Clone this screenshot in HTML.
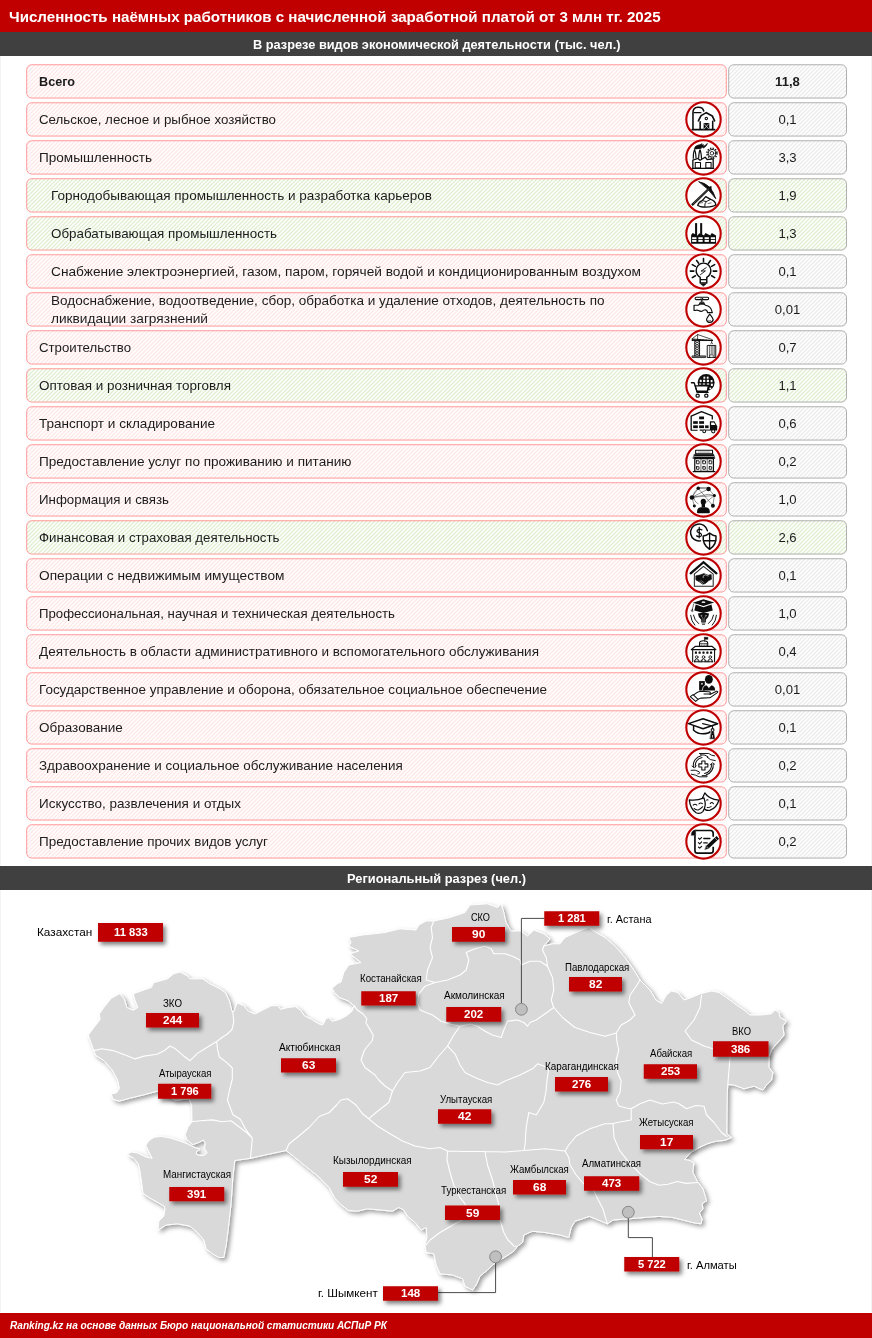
<!DOCTYPE html>
<html lang="ru"><head><meta charset="utf-8"><title>Infographic</title>
<style>
html,body{margin:0;padding:0;background:#fff;}
body{width:872px;height:1338px;position:relative;overflow:hidden;font-family:"Liberation Sans",sans-serif;}
.abs{position:absolute;}
#txt{position:absolute;left:0;top:0;width:872px;height:1338px;will-change:transform;}
.t{position:absolute;white-space:nowrap;transform-origin:0 0;display:block;}
.v{position:absolute;left:728px;width:119px;text-align:center;font-size:12.6px;color:#1c1c1c;transform:scaleX(1.04);}
</style></head><body>

<div class="abs" style="left:0;top:0;width:872px;height:31.7px;background:#c00000"></div>
<div class="abs" style="left:0;top:31.7px;width:872px;height:24.1px;background:#404040"></div>
<div class="abs" style="left:0;top:866.2px;width:872px;height:23.5px;background:#404040"></div>
<div class="abs" style="left:0;top:1312.5px;width:872px;height:25.5px;background:#c00000"></div>
<div class="abs" style="left:0px;top:55.8px;width:1px;height:810.4px;background:#f4f4f4"></div>
<div class="abs" style="left:0px;top:889.7px;width:1px;height:422.8px;background:#f4f4f4"></div>
<div class="abs" style="left:871px;top:55.8px;width:1px;height:810.4px;background:#f4f4f4"></div>
<div class="abs" style="left:871px;top:889.7px;width:1px;height:422.8px;background:#f4f4f4"></div>
<svg class="abs" style="left:0;top:0" width="872" height="1338" viewBox="0 0 872 1338">
<defs>
<pattern id="hp" patternUnits="userSpaceOnUse" width="16" height="16"><path d="M-2,2 L2,-2 M-2,6 L6,-2 M-2,10 L10,-2 M-2,14 L14,-2 M-2,18 L18,-2 M-2,22 L22,-2 M-2,26 L26,-2 M-2,30 L30,-2 M-2,34 L34,-2 " stroke="#ffe6e6" stroke-width="1.25" fill="none"/></pattern>
<pattern id="hg" patternUnits="userSpaceOnUse" width="16" height="16"><path d="M-2,2 L2,-2 M-2,6 L6,-2 M-2,10 L10,-2 M-2,14 L14,-2 M-2,18 L18,-2 M-2,22 L22,-2 M-2,26 L26,-2 M-2,30 L30,-2 M-2,34 L34,-2 " stroke="#dfeecf" stroke-width="1.25" fill="none"/></pattern>
<pattern id="hgr" patternUnits="userSpaceOnUse" width="16" height="16"><path d="M-2,2 L2,-2 M-2,6 L6,-2 M-2,10 L10,-2 M-2,14 L14,-2 M-2,18 L18,-2 M-2,22 L22,-2 M-2,26 L26,-2 M-2,30 L30,-2 M-2,34 L34,-2 " stroke="#ebebeb" stroke-width="1.25" fill="none"/></pattern>
<pattern id="hgg" patternUnits="userSpaceOnUse" width="16" height="16"><path d="M-2,2 L2,-2 M-2,6 L6,-2 M-2,10 L10,-2 M-2,14 L14,-2 M-2,18 L18,-2 M-2,22 L22,-2 M-2,26 L26,-2 M-2,30 L30,-2 M-2,34 L34,-2 " stroke="#dfeecf" stroke-width="1.25" fill="none"/></pattern>
<filter id="msh" x="-5%" y="-5%" width="112%" height="112%"><feDropShadow dx="2.5" dy="2.5" stdDeviation="2" flood-color="#000" flood-opacity="0.38"/></filter>
<filter id="bsh" x="-20%" y="-40%" width="150%" height="220%"><feDropShadow dx="2.6" dy="3" stdDeviation="2" flood-color="#000" flood-opacity="0.5"/></filter>
</defs>
<rect x="26.7" y="64.75" width="699.6" height="33.30" rx="5" fill="url(#hp)" stroke="#ff9494" stroke-width="0.95"/>
<rect x="728.7" y="64.75" width="117.8" height="33.30" rx="5" fill="url(#hgr)" stroke="#ababab" stroke-width="0.95"/>
<rect x="26.7" y="102.75" width="699.6" height="33.30" rx="5" fill="url(#hp)" stroke="#ff9494" stroke-width="0.95"/>
<rect x="728.7" y="102.75" width="117.8" height="33.30" rx="5" fill="url(#hgr)" stroke="#ababab" stroke-width="0.95"/>
<rect x="26.7" y="140.75" width="699.6" height="33.30" rx="5" fill="url(#hp)" stroke="#ff9494" stroke-width="0.95"/>
<rect x="728.7" y="140.75" width="117.8" height="33.30" rx="5" fill="url(#hgr)" stroke="#ababab" stroke-width="0.95"/>
<rect x="26.7" y="178.75" width="699.6" height="33.30" rx="5" fill="url(#hg)" stroke="#ff9494" stroke-width="0.95"/>
<rect x="728.7" y="178.75" width="117.8" height="33.30" rx="5" fill="url(#hgg)" stroke="#ababab" stroke-width="0.95"/>
<rect x="26.7" y="216.75" width="699.6" height="33.30" rx="5" fill="url(#hg)" stroke="#ff9494" stroke-width="0.95"/>
<rect x="728.7" y="216.75" width="117.8" height="33.30" rx="5" fill="url(#hgg)" stroke="#ababab" stroke-width="0.95"/>
<rect x="26.7" y="254.75" width="699.6" height="33.30" rx="5" fill="url(#hp)" stroke="#ff9494" stroke-width="0.95"/>
<rect x="728.7" y="254.75" width="117.8" height="33.30" rx="5" fill="url(#hgr)" stroke="#ababab" stroke-width="0.95"/>
<rect x="26.7" y="292.75" width="699.6" height="33.30" rx="5" fill="url(#hp)" stroke="#ff9494" stroke-width="0.95"/>
<rect x="728.7" y="292.75" width="117.8" height="33.30" rx="5" fill="url(#hgr)" stroke="#ababab" stroke-width="0.95"/>
<rect x="26.7" y="330.75" width="699.6" height="33.30" rx="5" fill="url(#hp)" stroke="#ff9494" stroke-width="0.95"/>
<rect x="728.7" y="330.75" width="117.8" height="33.30" rx="5" fill="url(#hgr)" stroke="#ababab" stroke-width="0.95"/>
<rect x="26.7" y="368.75" width="699.6" height="33.30" rx="5" fill="url(#hg)" stroke="#ff9494" stroke-width="0.95"/>
<rect x="728.7" y="368.75" width="117.8" height="33.30" rx="5" fill="url(#hgg)" stroke="#ababab" stroke-width="0.95"/>
<rect x="26.7" y="406.75" width="699.6" height="33.30" rx="5" fill="url(#hp)" stroke="#ff9494" stroke-width="0.95"/>
<rect x="728.7" y="406.75" width="117.8" height="33.30" rx="5" fill="url(#hgr)" stroke="#ababab" stroke-width="0.95"/>
<rect x="26.7" y="444.75" width="699.6" height="33.30" rx="5" fill="url(#hp)" stroke="#ff9494" stroke-width="0.95"/>
<rect x="728.7" y="444.75" width="117.8" height="33.30" rx="5" fill="url(#hgr)" stroke="#ababab" stroke-width="0.95"/>
<rect x="26.7" y="482.75" width="699.6" height="33.30" rx="5" fill="url(#hp)" stroke="#ff9494" stroke-width="0.95"/>
<rect x="728.7" y="482.75" width="117.8" height="33.30" rx="5" fill="url(#hgr)" stroke="#ababab" stroke-width="0.95"/>
<rect x="26.7" y="520.75" width="699.6" height="33.30" rx="5" fill="url(#hg)" stroke="#ff9494" stroke-width="0.95"/>
<rect x="728.7" y="520.75" width="117.8" height="33.30" rx="5" fill="url(#hgg)" stroke="#ababab" stroke-width="0.95"/>
<rect x="26.7" y="558.75" width="699.6" height="33.30" rx="5" fill="url(#hp)" stroke="#ff9494" stroke-width="0.95"/>
<rect x="728.7" y="558.75" width="117.8" height="33.30" rx="5" fill="url(#hgr)" stroke="#ababab" stroke-width="0.95"/>
<rect x="26.7" y="596.75" width="699.6" height="33.30" rx="5" fill="url(#hp)" stroke="#ff9494" stroke-width="0.95"/>
<rect x="728.7" y="596.75" width="117.8" height="33.30" rx="5" fill="url(#hgr)" stroke="#ababab" stroke-width="0.95"/>
<rect x="26.7" y="634.75" width="699.6" height="33.30" rx="5" fill="url(#hp)" stroke="#ff9494" stroke-width="0.95"/>
<rect x="728.7" y="634.75" width="117.8" height="33.30" rx="5" fill="url(#hgr)" stroke="#ababab" stroke-width="0.95"/>
<rect x="26.7" y="672.75" width="699.6" height="33.30" rx="5" fill="url(#hp)" stroke="#ff9494" stroke-width="0.95"/>
<rect x="728.7" y="672.75" width="117.8" height="33.30" rx="5" fill="url(#hgr)" stroke="#ababab" stroke-width="0.95"/>
<rect x="26.7" y="710.75" width="699.6" height="33.30" rx="5" fill="url(#hp)" stroke="#ff9494" stroke-width="0.95"/>
<rect x="728.7" y="710.75" width="117.8" height="33.30" rx="5" fill="url(#hgr)" stroke="#ababab" stroke-width="0.95"/>
<rect x="26.7" y="748.75" width="699.6" height="33.30" rx="5" fill="url(#hp)" stroke="#ff9494" stroke-width="0.95"/>
<rect x="728.7" y="748.75" width="117.8" height="33.30" rx="5" fill="url(#hgr)" stroke="#ababab" stroke-width="0.95"/>
<rect x="26.7" y="786.75" width="699.6" height="33.30" rx="5" fill="url(#hp)" stroke="#ff9494" stroke-width="0.95"/>
<rect x="728.7" y="786.75" width="117.8" height="33.30" rx="5" fill="url(#hgr)" stroke="#ababab" stroke-width="0.95"/>
<rect x="26.7" y="824.75" width="699.6" height="33.30" rx="5" fill="url(#hp)" stroke="#ff9494" stroke-width="0.95"/>
<rect x="728.7" y="824.75" width="117.8" height="33.30" rx="5" fill="url(#hgr)" stroke="#ababab" stroke-width="0.95"/>
<g transform="translate(703.5,119.40)"><circle r="17.2" fill="#fff" stroke="#c00000" stroke-width="2.1"/><g transform="scale(0.0598) translate(-393,-355)" stroke="#0d0d0d" fill="none" stroke-linecap="round" stroke-linejoin="round">
<path d="M217,520 V235 C217,128 375,125 397,215" stroke-width="26"/>
<path d="M235,243 H350" stroke-width="20"/>
<path d="M205,526 H580" stroke-width="26"/>
<path d="M308,378 L352,292 L440,242 L540,297 L578,378" stroke-width="28"/>
<path d="M337,395 V520 M547,388 V520" stroke-width="26"/>
<rect x="395" y="415" width="95" height="105" fill="#0d0d0d" stroke="none"/>
<path d="M405,428 L480,515 M480,428 L405,515" stroke="#fff" stroke-width="10"/>
<circle cx="440" cy="340" r="20" stroke-width="18"/>
</g></g>
<g transform="translate(703.5,157.40)"><circle r="17.2" fill="#fff" stroke="#c00000" stroke-width="2.1"/><g transform="scale(0.0598) translate(-393,-994)" stroke="#0d0d0d" fill="none" stroke-linecap="round" stroke-linejoin="round">
<path d="M205,1176 H565" stroke-width="22"/>
<path d="M215,1170 V1038 L300,1012 L335,1042 L420,992 L455,1030 L555,1020 V1170" stroke-width="22"/>
<rect x="255" y="1078" width="88" height="92" stroke-width="18"/>
<rect x="432" y="1078" width="88" height="92" stroke-width="18"/>
<path d="M222,1010 Q222,900 245,870 Q262,900 268,1000 M312,1000 Q318,900 335,868 Q352,900 360,1010" stroke-width="20"/>
<path d="M240,860 Q245,800 300,790 Q340,788 368,765 L350,800 L390,780 L385,815 Q420,800 458,762 Q440,810 395,835 L372,822 L345,850" stroke-width="14" fill="#0d0d0d"/>
<circle cx="535" cy="925" r="30" stroke-width="14"/>
<circle cx="535" cy="925" r="84" stroke-width="26" stroke-dasharray="22 22" stroke-linecap="butt"/>
<circle cx="535" cy="925" r="64" stroke-width="16"/>
</g></g>
<g transform="translate(703.5,195.40)"><circle r="17.2" fill="#fff" stroke="#c00000" stroke-width="2.1"/><g transform="scale(0.0598) translate(-393,-355)" stroke="#0d0d0d" fill="none" stroke-linecap="round" stroke-linejoin="round">
<path d="M318,128 Q520,160 598,410 Q478,240 318,128 Z" fill="#0d0d0d" stroke-width="14"/>
<path d="M505,222 L200,518" stroke-width="38" stroke-linecap="butt"/>
<path d="M485,241 L218,500" stroke="#fff" stroke-width="7" stroke-linecap="butt" opacity="0.75"/>
<path d="M468,222 L522,202 L525,262 Z" fill="#0d0d0d" stroke-width="8"/>
<path d="M295,518 Q318,458 372,442 L430,375 L512,422 Q592,448 600,512 Q560,552 420,550 Q330,548 295,518 Z" fill="#fff" stroke-width="22"/>
<path d="M372,442 L440,458 L512,422 M440,458 Q405,490 415,545" stroke-width="16"/>
<path d="M335,482 L378,476 M470,490 L520,480" stroke-width="10"/>
</g></g>
<g transform="translate(703.5,233.40)"><circle r="17.2" fill="#fff" stroke="#c00000" stroke-width="2.1"/><g transform="scale(0.0598) translate(-393,-994)" stroke="#0d0d0d" fill="none" stroke-linecap="round" stroke-linejoin="round">
<g stroke="none" fill="#0d0d0d">
<rect x="252" y="822" width="34" height="200"/><rect x="337" y="822" width="34" height="200"/>
<path d="M186,1168 V1022 L212,988 L300,1030 V1022 L322,990 L405,1030 V1022 L425,988 L510,1030 V1022 L532,988 L602,1030 V1168 Z"/>
</g>
<g stroke="none" fill="#fff">
<rect x="203" y="1058" width="72" height="30"/><rect x="203" y="1102" width="72" height="34"/>
<rect x="307" y="1058" width="72" height="30"/><rect x="307" y="1102" width="72" height="34"/>
<rect x="411" y="1058" width="72" height="30"/><rect x="411" y="1102" width="72" height="34"/>
<rect x="515" y="1058" width="72" height="30"/><rect x="515" y="1102" width="72" height="34"/>
</g>
</g></g>
<g transform="translate(703.5,271.40)"><circle r="17.2" fill="#fff" stroke="#c00000" stroke-width="2.1"/><g transform="scale(0.0598) translate(-393,-355)" stroke="#0d0d0d" fill="none" stroke-linecap="round" stroke-linejoin="round">
<path d="M338,455 Q270,410 270,340 A123,123 0 1 1 516,340 Q516,410 448,455 V548 H338 Z" stroke-width="24"/>
<path d="M345,492 H440" stroke-width="22"/>
<path d="M352,565 H434 L393,600 Z" fill="#0d0d0d" stroke-width="12"/>
<path d="M393,140 V192 M278,172 L312,218 M510,172 L474,222 M205,242 L258,272 M580,242 L528,272 M172,350 H232 M555,350 H615 M258,428 L205,460 M528,428 L580,460" stroke-width="26"/>
<path d="M438,292 L352,350 L425,346 L342,410" stroke-width="15"/>
</g></g>
<g transform="translate(703.5,309.40)"><circle r="17.2" fill="#fff" stroke="#c00000" stroke-width="2.1"/><g transform="scale(0.0598) translate(-393,-994)" stroke="#0d0d0d" fill="none" stroke-linecap="round" stroke-linejoin="round">
<rect x="252" y="790" width="228" height="40" rx="20" stroke-width="18"/>
<circle cx="365" cy="810" r="14" fill="#fff" stroke-width="12"/>
<path d="M365,835 V875" stroke-width="20"/>
<path d="M322,905 L335,872 H398 L412,905 Z" fill="#555" stroke-width="10"/>
<path d="M235,925 H305 Q325,898 365,898 Q408,898 425,925 Q520,935 540,1048 H462 Q455,1002 420,1000 Q395,1000 375,1022 Q345,1035 312,1012 Q285,1000 252,1012 H235 Z" stroke-width="20"/>
<path d="M497,1072 Q440,1150 445,1168 Q452,1212 500,1212 Q550,1208 555,1165 Q552,1142 497,1072 Z" stroke-width="20"/>
<path d="M478,1180 Q495,1192 512,1180" stroke-width="10"/>
</g></g>
<g transform="translate(703.5,347.40)"><circle r="17.2" fill="#fff" stroke="#c00000" stroke-width="2.1"/><g transform="scale(0.0598) translate(-393,-355)" stroke="#0d0d0d" fill="none" stroke-linecap="round" stroke-linejoin="round">
<path d="M247,238 V498 M327,238 V498" stroke-width="16"/>
<path d="M250,250 L325,290 L250,330 L325,370 L250,410 L325,450 L250,490 M325,250 L250,290 L325,330 L250,370 L325,410 L250,450 L325,490" stroke-width="12"/>
<rect x="207" y="497" width="222" height="28" fill="#777" stroke-width="12"/>
<path d="M205,215 L545,240 M205,240 L545,240 M205,215 V240" stroke-width="16"/>
<path d="M215,228 L240,215 L265,240 L290,218 L315,240 L340,222 L365,240 L390,226 L415,240 L440,230 L465,240 L490,234" stroke-width="10"/>
<path d="M210,205 L295,140 L540,225 M295,140 V215" stroke-width="12"/>
<path d="M530,240 V280 M515,290 L530,278 L545,290" stroke-width="12"/>
<rect x="462" y="322" width="136" height="202" stroke-width="16"/>
<path d="M492,330 V520 M522,330 V470 M550,330 V470 M575,330 V520" stroke-width="10"/>
<rect x="505" y="480" width="50" height="42" fill="#fff" stroke-width="10"/>
</g></g>
<g transform="translate(703.5,385.40)"><circle r="17.2" fill="#fff" stroke="#c00000" stroke-width="2.1"/><g transform="scale(0.0598) translate(-393,-994)" stroke="#0d0d0d" fill="none" stroke-linecap="round" stroke-linejoin="round">
<circle cx="437" cy="945" r="142" fill="#0d0d0d" stroke="none"/>
<g stroke="none" fill="#fff"><rect x="392" y="848" width="30" height="34"/><rect x="448" y="848" width="30" height="34"/><rect x="330" y="900" width="32" height="38"/><rect x="386" y="900" width="36" height="38"/><rect x="448" y="900" width="36" height="38"/><rect x="512" y="905" width="32" height="36"/><rect x="516" y="965" width="34" height="38"/><rect x="492" y="1030" width="30" height="26"/></g><g stroke="none" fill="#999"><rect x="320" y="955" width="34" height="34"/><rect x="380" y="955" width="40" height="34"/><rect x="448" y="955" width="40" height="34"/></g>
<path d="M255,1003 H472 L455,1098 H283 Z" fill="#fff" stroke-width="20"/>
<path d="M190,950 H237 L288,1112 H470" stroke-width="22"/>
<path d="M283,1092 H458" stroke-width="26"/>
<circle cx="295" cy="1165" r="27" fill="#fff" stroke-width="21"/>
<circle cx="440" cy="1165" r="27" fill="#fff" stroke-width="21"/>
</g></g>
<g transform="translate(703.5,423.40)"><circle r="17.2" fill="#fff" stroke="#c00000" stroke-width="2.1"/><g transform="scale(0.0598) translate(-393,-355)" stroke="#0d0d0d" fill="none" stroke-linecap="round" stroke-linejoin="round">
<path d="M187,470 V235 L360,157 L540,228 V290" stroke-width="22" stroke-linecap="butt"/>
<path d="M180,470 H295 M330,467 H380" stroke-width="20" stroke-linecap="butt"/>
<g stroke="none" fill="#0d0d0d">
<rect x="320" y="240" width="82" height="46"/>
<rect x="220" y="318" width="78" height="44"/><rect x="320" y="318" width="82" height="44"/>
<rect x="220" y="388" width="78" height="46"/><rect x="320" y="388" width="82" height="46"/><rect x="420" y="388" width="58" height="46"/>
<path d="M500,320 H575 L622,402 V475 H500 Z"/>
</g>
<path d="M430,467 H500" stroke-width="16"/>
<path d="M520,338 H568 L592,382 H520 Z" fill="#fff" stroke="none"/>
<circle cx="405" cy="487" r="24" fill="#fff" stroke-width="17"/>
<circle cx="556" cy="487" r="27" fill="#fff" stroke-width="17"/>
</g></g>
<g transform="translate(703.5,461.40)"><circle r="17.2" fill="#fff" stroke="#c00000" stroke-width="2.1"/><g transform="scale(0.0598) translate(-393,-994)" stroke="#0d0d0d" fill="none" stroke-linecap="round" stroke-linejoin="round">
<rect x="262" y="807" width="282" height="60" fill="#fff" stroke-width="18"/>
<path d="M305,838 H500" stroke-width="10" stroke="#555"/>
<path d="M242,873 H563 L585,945 H220 Z" fill="#0d0d0d" stroke-width="8"/>
<path d="M240,912 H565" stroke="#fff" stroke-width="9"/>
<rect x="247" y="948" width="312" height="212" fill="#fff" stroke-width="20"/>
<path d="M350,955 V1155 M455,955 V1155" stroke-width="10"/>
<g stroke-width="15">
<rect x="274" y="984" width="46" height="50" rx="3"/><rect x="380" y="984" width="46" height="50" rx="3"/><rect x="486" y="984" width="46" height="50" rx="3"/>
<rect x="276" y="1082" width="42" height="44" rx="3"/><rect x="382" y="1082" width="42" height="44" rx="3"/><rect x="488" y="1082" width="42" height="44" rx="3"/>
</g>
<path d="M220,1165 H585" stroke-width="18"/>
</g></g>
<g transform="translate(703.5,499.40)"><circle r="17.2" fill="#fff" stroke="#c00000" stroke-width="2.1"/><g transform="scale(0.0598) translate(-393,-355)" stroke="#0d0d0d" fill="none" stroke-linecap="round" stroke-linejoin="round">
<g stroke-width="8" stroke="#222">
<path d="M305,170 L478,180 L575,290 L550,460 M305,170 L200,320 L240,465 M200,320 L575,290 M305,170 L550,460 M478,180 L200,320 M305,155 L478,160 M200,320 L478,270 L575,290 M575,290 L440,400 M230,300 Q235,400 300,425 M305,170 Q230,230 215,290"/>
</g>
<g stroke="none" fill="#0d0d0d">
<circle cx="305" cy="170" r="29"/><circle cx="478" cy="180" r="38"/><circle cx="200" cy="322" r="38"/><circle cx="575" cy="290" r="26"/><circle cx="240" cy="465" r="25"/><circle cx="550" cy="460" r="33"/>
<ellipse cx="390" cy="395" rx="44" ry="50"/>
<rect x="362" y="430" width="56" height="60"/>
<path d="M283,570 Q283,492 345,485 L435,485 Q500,492 500,570 Q500,585 480,585 H305 Q283,585 283,570 Z"/>
</g>
</g></g>
<g transform="translate(703.5,537.40)"><circle r="17.2" fill="#fff" stroke="#c00000" stroke-width="2.1"/><g transform="scale(0.0598) translate(-393,-994)" stroke="#0d0d0d" fill="none" stroke-linecap="round" stroke-linejoin="round">
<path d="M458,882 A142,142 0 1 0 342,1052" stroke-width="25"/>
<path d="M365,868 Q320,845 292,872 Q270,905 322,918 Q372,932 355,968 Q325,995 278,968 M322,828 V1000" stroke-width="21"/>
<path d="M495,922 Q550,965 602,970 Q615,1120 495,1192 Q375,1120 388,970 Q440,965 495,922 Z" fill="#fff" stroke-width="25"/>
<path d="M495,935 V1182 M392,1050 H598" stroke-width="22"/>
</g></g>
<g transform="translate(703.5,575.40)"><circle r="17.2" fill="#fff" stroke="#c00000" stroke-width="2.1"/><g transform="scale(0.0598) translate(-393,-355)" stroke="#0d0d0d" fill="none" stroke-linecap="round" stroke-linejoin="round">
<path d="M178,320 L393,135 L610,320" stroke-width="38" stroke-linejoin="miter"/>
<path d="M240,332 V535 H555 V332 M238,335 L393,205 L557,335" stroke-width="17" stroke="#222"/>
<path d="M268,362 L335,348 L400,325 L470,352 L522,340 L527,420 L482,442 L425,490 L380,502 L322,462 L268,430 Z" fill="#0d0d0d" stroke-width="10"/>
<path d="M385,395 Q375,350 425,345 L470,365" stroke="#fff" stroke-width="10"/>
<path d="M330,455 L380,490 M350,440 L400,475" stroke="#fff" stroke-width="7"/>
</g></g>
<g transform="translate(703.5,613.40)"><circle r="17.2" fill="#fff" stroke="#c00000" stroke-width="2.1"/><g transform="scale(0.0598) translate(-393,-994)" stroke="#0d0d0d" fill="none" stroke-linecap="round" stroke-linejoin="round">
<g stroke="none" fill="#0d0d0d">
<path d="M215,815 L393,758 L572,810 L393,872 Z"/>
<path d="M262,846 L393,890 L526,844 L548,945 L393,988 L240,945 Z"/>
<path d="M300,995 Q393,972 487,995 Q482,1062 432,1102 L432,1138 H355 L355,1102 Q305,1062 300,995 Z"/>
<rect x="358" y="1145" width="70" height="14"/><rect x="368" y="1168" width="50" height="14"/>
</g>
<ellipse cx="393" cy="806" rx="32" ry="14" fill="#ddd" stroke="none"/>
<path d="M228,835 L208,925 M208,925 L185,950 M208,925 L200,965 M208,925 L215,960" stroke-width="10"/>
<path d="M383,1130 V1080 L360,1040 M405,1130 V1080 L428,1040" stroke="#fff" stroke-width="6"/>
<circle cx="356" cy="1033" r="8" stroke="#fff" stroke-width="5"/><circle cx="432" cy="1033" r="8" stroke="#fff" stroke-width="5"/>
<path d="M178,1025 Q188,1130 248,1190 M225,1022 Q240,1112 312,1165 M610,1025 Q600,1130 540,1190 M562,1022 Q548,1112 475,1165" stroke-width="16"/>
</g></g>
<g transform="translate(703.5,651.40)"><circle r="17.2" fill="#fff" stroke="#c00000" stroke-width="2.1"/><g transform="scale(0.0598) translate(-393,-355)" stroke="#0d0d0d" fill="none" stroke-linecap="round" stroke-linejoin="round">
<path d="M412,185 V120" stroke-width="12"/>
<rect x="412" y="118" width="55" height="36" fill="#0d0d0d" stroke-width="6"/>
<path d="M327,265 V215 Q327,177 393,177 Q463,177 463,215 V265" stroke-width="18"/>
<path d="M355,225 V265 M385,225 V265 M415,225 V265 M440,225 V265" stroke-width="9"/>
<path d="M325,222 H465" stroke-width="9"/>
<path d="M188,325 L258,270 H533 L600,325 Z" fill="#fff" stroke-width="20"/>
<path d="M212,335 V530 M578,335 V530" stroke-width="18"/>
<g fill="#0d0d0d" stroke="none">
<rect x="248" y="358" width="36" height="36" rx="9"/><rect x="310" y="358" width="36" height="36" rx="9"/><rect x="375" y="358" width="36" height="36" rx="9"/><rect x="440" y="358" width="36" height="36" rx="9"/><rect x="502" y="358" width="36" height="36" rx="9"/>
</g>
<g stroke-width="14">
<circle cx="280" cy="450" r="22"/><circle cx="393" cy="450" r="22"/><circle cx="506" cy="450" r="22"/>
<path d="M240,530 Q240,482 280,480 Q320,482 320,530 M353,530 Q353,482 393,480 Q433,482 433,530 M466,530 Q466,482 506,480 Q546,482 546,530"/>
</g>
<path d="M240,528 H548" stroke-width="14" stroke-dasharray="9 9"/>
<path d="M245,505 V530 M265,505 V530 M300,505 V530 M335,505 V530 M375,505 V530 M412,505 V530 M450,505 V530 M485,505 V530 M525,505 V530" stroke-width="8"/>
</g></g>
<g transform="translate(703.5,689.40)"><circle r="17.2" fill="#fff" stroke="#c00000" stroke-width="2.1"/><g transform="scale(0.0598) translate(-393,-994)" stroke="#0d0d0d" fill="none" stroke-linecap="round" stroke-linejoin="round">
<g stroke="none" fill="#0d0d0d">
<ellipse cx="483" cy="826" rx="66" ry="72"/>
<path d="M372,1012 Q378,932 440,925 L483,965 L528,925 Q588,940 588,1012 Z"/>
<rect x="320" y="855" width="95" height="157"/>
</g>
<rect x="350" y="885" width="34" height="30" fill="#aaa" stroke="none"/>
<path d="M370,1010 Q372,940 425,918" stroke="#fff" stroke-width="12"/>
<path d="M476,945 L483,975 L490,945" stroke="#fff" stroke-width="5"/>
<path d="M172,1115 L218,1080 L302,1160 L262,1195 Z" fill="#fff" stroke-width="17"/>
<path d="M230,1085 Q295,1030 345,1025 L480,1035 Q525,1042 500,1068 L400,1072 M500,1078 L610,1025 Q645,1020 625,1048 L500,1135 L345,1140 L300,1160" fill="none" stroke-width="17"/>
</g></g>
<g transform="translate(703.5,727.40)"><circle r="17.2" fill="#fff" stroke="#c00000" stroke-width="2.1"/><g transform="scale(0.0598) translate(-393,-355)" stroke="#0d0d0d" fill="none" stroke-linecap="round" stroke-linejoin="round">
<path d="M142,292 L385,210 L630,295 L385,378 Z" stroke-width="25"/>
<path d="M227,335 V402 Q300,465 385,463 Q470,460 500,430" stroke-width="25"/>
<path d="M378,292 L545,332 V378" stroke-width="18"/>
<circle cx="545" cy="400" r="24" fill="#fff" stroke-width="18"/>
<path d="M528,432 H562 L580,545 H505 Z" fill="#0d0d0d" stroke-width="8"/>
<path d="M543,490 V520" stroke="#fff" stroke-width="12"/>
</g></g>
<g transform="translate(703.5,765.40)"><circle r="17.2" fill="#fff" stroke="#c00000" stroke-width="2.1"/><g transform="scale(0.0598) translate(-393,-994)" stroke="#0d0d0d" fill="none" stroke-linecap="round" stroke-linejoin="round">
<path d="M365,920 H418 V968 H466 V1022 H418 V1072 H365 V1022 H315 V968 H365 Z" stroke-width="18"/>
<path d="M370,862 A135,135 0 0 0 258,1020 M355,832 A165,165 0 0 0 225,1020" stroke-width="17"/>
<path d="M410,1128 A135,135 0 0 0 525,970 M440,1150 A165,165 0 0 0 555,970" stroke-width="17"/>
<path d="M200,1005 L240,1035 L275,1000 M505,985 L545,950 L580,975" stroke-width="14"/>
<path d="M325,795 H480 Q520,830 580,835 M340,815 Q430,810 470,850 M455,860 Q500,910 590,915" stroke-width="16"/>
<path d="M185,1075 Q260,1060 320,1100 Q345,1135 300,1135 M190,1140 Q260,1150 320,1185 H450 Q470,1165 440,1165 H370" stroke-width="16"/>
</g></g>
<g transform="translate(703.5,803.40)"><circle r="17.2" fill="#fff" stroke="#c00000" stroke-width="2.1"/><g transform="scale(0.0598) translate(-393,-355)" stroke="#0d0d0d" fill="none" stroke-linecap="round" stroke-linejoin="round">
<path d="M378,262 L415,180 Q480,285 650,302 Q612,430 505,468 Q455,482 418,455" fill="#fff" stroke-width="21"/>
<path d="M505,358 Q535,322 558,360 M445,300 Q455,290 468,298 M455,425 Q490,425 520,408" stroke-width="17"/>
<path d="M155,295 Q280,312 400,262 Q452,400 382,492 Q330,542 270,512 Q170,440 155,295 Z" fill="#fff" stroke-width="21"/>
<path d="M220,385 Q250,352 282,385 M315,365 Q345,332 375,360 M235,440 Q300,502 380,410" stroke-width="17"/>
</g></g>
<g transform="translate(703.5,841.40)"><circle r="17.2" fill="#fff" stroke="#c00000" stroke-width="2.1"/><g transform="scale(0.0598) translate(-393,-994)" stroke="#0d0d0d" fill="none" stroke-linecap="round" stroke-linejoin="round">
<path d="M250,890 V1150 Q250,1190 292,1190 H510 Q555,1190 555,1150 V1085 M555,915 V862 Q555,812 508,812 H262" stroke-width="28" stroke-linecap="butt"/>
<path d="M188,892 Q186,812 262,800 L262,892 Z" fill="#0d0d0d" stroke-width="6"/>
<path d="M308,940 L330,960 L362,928 M308,1015 L330,1035 L362,1003 M308,1088 L330,1108 L362,1076" stroke-width="18"/>
<path d="M398,945 H500 M398,1020 H455" stroke-width="22"/>
<path d="M632,928 L462,1088" stroke-width="62" stroke-linecap="butt"/>
<path d="M440,1068 L482,1110 L420,1128 Z" fill="#0d0d0d" stroke-width="6"/>
<path d="M583,935 L626,978" stroke="#fff" stroke-width="9"/>
<path d="M450,1092 L462,1104" stroke="#fff" stroke-width="10"/>
</g></g>
<path d="M93.8,1050.6 L88.3,1035.0 L93.8,1027.7 L100.2,1019.4 L99.3,1014.0 L103.9,1007.5 L111.2,998.3 L119.4,993.8 L124.0,998.3 L126.8,1007.5 L133.2,1010.3 L137.8,1007.5 L135.0,1000.2 L133.2,993.8 L151.6,987.3 L153.4,982.8 L167.5,978.8 L173.8,973.8 L180.0,972.0 L187.5,976.0 L190.0,978.8 L202.5,978.8 L210.0,983.8 L220.0,988.8 L225.5,992.8 L229.4,1001.0 L232.0,1011.5 L233.8,1011.5 L237.2,1003.0 L243.9,1005.7 L248.4,1011.2 L254.9,1014.0 L262.2,1010.3 L271.4,1005.7 L277.8,1005.7 L280.6,1009.4 L287.9,1007.5 L295.2,1006.6 L300.7,1010.3 L304.4,1015.8 L311.7,1019.5 L319.1,1024.0 L322.8,1025.0 L325.5,1019.5 L328.3,1017.6 L332.0,1021.3 L339.3,1019.5 L346.6,1015.8 L352.1,1011.2 L354.0,1005.7 L348.4,1001.0 L339.3,997.4 L334.7,992.8 L332.0,988.3 L337.4,983.7 L341.0,982.0 L343.8,972.5 L348.8,965.0 L361.0,962.5 L350.0,953.8 L358.8,951.0 L348.8,946.0 L351.0,942.5 L348.8,937.5 L362.5,935.0 L385.0,932.5 L400.0,928.8 L416.0,930.0 L418.8,925.0 L426.0,921.0 L433.8,921.0 L450.0,917.5 L465.0,912.5 L470.0,905.0 L487.5,903.8 L497.5,907.5 L501.0,903.8 L503.8,912.5 L506.0,922.5 L511.0,931.0 L521.0,931.0 L527.5,936.0 L533.8,930.0 L543.8,933.8 L550.0,938.8 L543.8,946.0 L552.5,943.8 L560.0,943.8 L565.0,937.5 L576.0,932.5 L588.8,927.5 L593.8,931.0 L605.0,937.5 L615.0,946.0 L625.0,957.5 L633.8,970.0 L640.0,980.0 L650.0,990.0 L656.0,1000.0 L661.5,1003.5 L666.5,995.0 L671.5,991.0 L677.8,992.5 L684.0,1000.0 L691.5,997.5 L700.0,993.8 L711.5,991.0 L719.0,992.5 L726.5,997.5 L736.5,1005.0 L744.0,1010.0 L750.0,1015.0 L761.5,1015.0 L771.5,1013.8 L775.0,1010.0 L779.0,1012.5 L780.0,1017.5 L786.5,1021.0 L782.8,1026.0 L784.0,1035.0 L780.0,1040.0 L776.5,1043.8 L771.5,1050.0 L769.0,1057.0 L769.0,1067.5 L772.8,1072.5 L771.5,1080.0 L766.5,1085.0 L762.8,1090.0 L754.0,1086.2 L744.0,1088.8 L734.0,1085.0 L727.8,1084.5 L727.3,1092.0 L727.0,1110.0 L726.8,1127.5 L726.8,1133.8 L731.4,1137.5 L725.0,1140.3 L715.8,1141.2 L706.6,1144.0 L697.4,1148.5 L690.0,1153.0 L684.6,1159.5 L690.0,1160.5 L693.8,1163.2 L692.8,1172.4 L697.4,1181.5 L703.0,1189.0 L705.7,1198.0 L706.6,1200.8 L702.0,1203.6 L703.0,1209.0 L699.3,1212.8 L702.0,1219.2 L701.0,1223.8 L693.8,1222.8 L682.8,1220.0 L671.7,1217.3 L659.0,1216.4 L646.0,1217.3 L635.0,1218.3 L622.2,1219.2 L613.0,1220.0 L607.5,1223.8 L598.3,1220.0 L589.2,1216.4 L582.5,1218.8 L575.0,1221.2 L571.2,1227.5 L568.8,1237.5 L560.0,1235.0 L545.0,1232.5 L532.5,1231.2 L523.8,1235.0 L522.5,1242.5 L517.5,1246.2 L513.8,1251.2 L508.0,1255.0 L500.0,1260.0 L492.5,1265.0 L487.5,1270.0 L480.0,1276.2 L476.2,1285.0 L472.5,1290.0 L465.0,1286.2 L462.5,1278.8 L452.5,1275.0 L440.0,1273.8 L436.2,1265.0 L433.8,1253.8 L426.2,1252.5 L425.0,1245.0 L427.0,1237.5 L426.2,1227.5 L421.2,1230.0 L415.0,1222.5 L407.5,1216.2 L403.8,1210.0 L398.8,1207.5 L392.5,1211.2 L380.0,1210.0 L367.5,1208.8 L357.5,1211.2 L348.5,1210.5 L340.0,1203.8 L334.5,1197.5 L329.5,1188.0 L319.0,1177.0 L304.0,1165.0 L294.4,1156.9 L286.1,1150.5 L265.0,1155.0 L250.4,1158.3 L234.8,1160.5 L232.9,1177.0 L231.1,1202.8 L228.3,1228.4 L226.2,1245.0 L223.8,1257.5 L218.8,1257.5 L212.5,1253.8 L206.2,1248.8 L203.8,1240.0 L197.5,1232.5 L190.0,1226.2 L177.5,1223.8 L166.2,1225.0 L158.0,1230.0 L158.8,1221.2 L163.8,1216.2 L165.0,1208.8 L164.1,1206.1 L157.7,1202.4 L149.4,1197.8 L143.0,1193.3 L142.1,1186.0 L140.3,1173.0 L138.4,1163.9 L133.9,1158.4 L127.4,1154.4 L131.1,1152.0 L137.5,1152.9 L144.9,1156.6 L152.2,1158.4 L150.4,1154.7 L145.8,1145.6 L148.5,1141.0 L154.0,1137.3 L161.4,1136.4 L170.6,1138.2 L179.7,1141.0 L187.1,1143.7 L194.4,1147.4 L200.0,1149.2 L196.2,1152.0 L197.2,1155.0 L203.6,1155.6 L207.2,1152.9 L204.5,1148.3 L205.4,1143.7 L203.6,1140.0 L198.0,1142.8 L192.6,1144.6 L187.1,1140.0 L185.2,1134.5 L188.0,1127.2 L192.0,1121.7 L191.7,1105.2 L188.9,1098.8 L175.4,1100.2 L158.0,1091.0 L144.2,1094.7 L129.5,1098.3 L119.4,1101.1 L113.0,1099.3 L111.2,1093.8 L116.7,1092.8 L119.4,1088.3 L117.6,1080.0 L112.1,1069.9 L103.9,1060.7 L95.6,1055.2 Z" fill="#d9d9d9" stroke="#fff" stroke-width="1" stroke-linejoin="round" filter="url(#msh)"/>
<path d="M93.8,1050.6 L102.0,1048.8 L113.0,1050.6 L125.9,1055.2 L135.0,1058.9 L144.2,1056.1 L157.0,1054.3 L164.4,1050.6 L170.0,1046.0 L175.4,1048.8 L182.8,1055.2 L190.0,1060.7 L197.4,1053.4 L204.8,1048.8 L212.1,1044.2 L216.7,1041.5 M232.8,1012.0 L233.8,1022.2 L232.0,1029.5 L227.3,1034.0 L222.0,1037.5 L216.7,1041.5 M216.7,1041.5 L217.6,1049.7 L219.4,1057.0 L226.8,1062.6 L232.3,1068.0 L232.3,1079.0 L229.5,1090.0 L227.4,1100.0 L232.9,1114.7 L240.3,1119.3 L245.8,1129.4 L252.4,1138.4 M252.4,1138.4 L250.4,1158.3 M192.0,1121.7 L200.0,1120.8 L212.8,1119.9 L222.0,1121.7 L231.0,1120.8 L238.4,1126.3 L246.7,1132.7 L252.4,1138.4 M286.1,1150.5 L288.9,1144.0 L298.0,1136.7 L309.0,1127.5 L319.2,1116.5 L329.3,1112.5 L336.6,1105.0 L341.0,1100.0 L347.5,1098.8 L356.0,1105.0 L362.5,1113.8 L368.8,1118.8 M368.8,1118.8 L376.0,1112.5 L388.8,1102.5 L392.5,1091.0 M354.0,1005.7 L357.6,1010.3 L363.1,1014.0 L366.8,1018.5 L365.9,1023.0 L369.5,1028.6 L373.2,1035.0 L372.3,1040.5 L368.6,1045.0 L364.5,1050.0 L361.0,1060.0 L365.0,1067.5 L375.0,1075.0 L378.8,1080.0 L385.0,1086.0 L392.5,1091.0 M392.5,1091.0 L397.5,1082.5 L405.0,1072.5 L420.0,1071.0 L430.0,1067.5 L437.5,1057.5 L447.5,1046.0 M447.5,1046.0 L455.0,1053.8 L460.0,1065.0 L465.0,1072.5 L475.0,1077.5 L487.5,1082.5 L497.5,1085.0 L505.0,1081.0 L520.0,1075.0 L532.5,1068.8 L537.5,1063.8 L548.8,1068.0 L547.0,1080.0 L546.2,1090.0 L543.8,1102.5 L536.2,1115.0 L528.8,1112.5 L526.2,1127.5 L525.0,1145.0 L524.0,1150.5 M368.8,1118.8 L377.5,1126.0 L390.0,1133.8 L402.5,1141.0 L415.0,1146.0 L430.0,1148.8 L440.0,1147.5 L447.5,1151.0 L465.0,1151.5 L485.0,1151.5 L505.0,1152.0 L524.0,1150.5 L545.0,1148.8 L565.0,1151.0 M565.0,1151.0 L568.8,1145.0 L576.2,1136.0 L590.0,1128.8 L605.0,1123.8 L613.0,1123.5 L620.0,1122.0 L631.2,1120.0 L631.2,1108.8 M616.2,1033.0 L617.0,1042.0 L618.8,1050.0 L616.2,1060.0 L617.5,1072.5 L621.2,1081.0 L620.0,1092.5 L616.2,1100.0 L618.8,1106.0 L626.2,1108.0 L631.2,1108.8 M631.2,1108.8 L640.0,1103.8 L650.0,1100.0 L662.5,1104.0 L673.8,1102.0 L679.0,1103.8 L686.5,1108.8 L696.0,1105.5 L704.0,1106.2 L706.5,1115.0 L714.0,1122.5 L721.5,1132.5 L726.8,1136.5 M701.5,995.0 L700.0,1007.5 L694.0,1020.0 L685.0,1031.0 L691.5,1040.0 L704.0,1046.0 L712.8,1048.8 L722.0,1052.0 L730.0,1056.8 L729.0,1070.0 L727.8,1084.5 M640.0,980.0 L636.2,986.2 L630.0,995.0 L628.8,1002.5 L632.5,1010.0 L635.0,1015.0 L630.0,1020.0 L621.2,1025.0 L616.2,1033.0 M553.8,1007.5 L562.5,1017.5 L575.0,1027.5 L590.0,1032.5 L605.0,1036.2 L616.2,1033.0 M547.5,966.2 L552.5,977.5 L553.8,990.0 L551.2,1000.0 L553.8,1007.5 M547.5,966.2 L546.2,957.5 L542.5,950.0 L543.8,946.0 M435.0,982.5 L447.5,980.0 L460.0,975.0 L466.2,970.0 L468.8,960.0 L466.2,952.5 L475.0,948.8 L485.0,946.2 L491.2,948.8 L493.8,953.8 L505.0,953.8 L512.5,956.2 L520.0,960.0 L521.0,965.0 L530.0,961.2 L540.0,961.2 L547.5,966.2 M433.8,921.0 L431.2,927.5 L432.5,937.5 L430.0,947.5 L432.5,957.5 L427.5,970.0 L426.2,980.0 L435.0,982.5 M435.0,982.5 L425.0,986.2 L418.8,993.8 L417.5,1002.5 L420.0,1010.0 L432.5,1015.0 L441.2,1021.2 L450.0,1024.0 L460.0,1026.2 M553.8,1007.5 L545.0,1013.8 L536.2,1020.0 L530.0,1022.5 L527.5,1026.2 L523.8,1022.5 L517.5,1020.0 L507.5,1021.2 L503.8,1030.0 L501.2,1037.5 L492.5,1035.0 L485.0,1031.2 L477.5,1026.2 L470.0,1024.0 L460.0,1026.2 M460.0,1026.2 L453.8,1035.0 L447.5,1046.0 M447.5,1151.0 L447.0,1160.0 L450.0,1172.5 L453.8,1185.0 L460.0,1197.5 L465.0,1203.8 L466.0,1212.0 L462.5,1220.0 L455.0,1223.8 L440.0,1232.5 L430.0,1240.0 L426.2,1245.0 M485.0,1151.5 L487.5,1165.0 L492.5,1180.0 L496.2,1195.0 L498.8,1205.0 L500.0,1220.0 L503.8,1232.5 L508.0,1240.0 L514.0,1246.0 L517.5,1246.2 M565.0,1151.0 L568.8,1157.5 L570.0,1165.0 L576.2,1175.0 L582.5,1182.5 L588.0,1188.0 L593.8,1190.7 L598.3,1200.0 L603.0,1209.0 L605.7,1218.3 L607.5,1223.8 M613.0,1123.5 L614.0,1137.5 L619.5,1150.4 L629.5,1163.2 L640.5,1174.2 L649.7,1181.5 L659.0,1185.2 L668.0,1184.3 L677.2,1181.5 L686.4,1183.4 L697.4,1182.5" fill="none" stroke="#fff" stroke-width="1.1" stroke-linejoin="round" stroke-linecap="round"/>
<path d="M521.4,1003 V918.4 H544.5 M628.3,1218 V1237.6 H652.4 V1257 M495.6,1263 V1292.6 H438" fill="none" stroke="#4a4a4a" stroke-width="1"/>
<circle cx="521.4" cy="1009.3" r="5.9" fill="#bfbfbf" stroke="#7f7f7f" stroke-width="0.9"/>
<circle cx="628.3" cy="1212.2" r="5.9" fill="#bfbfbf" stroke="#7f7f7f" stroke-width="0.9"/>
<circle cx="495.6" cy="1256.8" r="5.9" fill="#bfbfbf" stroke="#7f7f7f" stroke-width="0.9"/>
<rect x="146.00" y="1013.00" width="53.00" height="14.50" fill="#c00000" filter="url(#bsh)"/>
<rect x="158.00" y="1083.75" width="53.25" height="15.00" fill="#c00000" filter="url(#bsh)"/>
<rect x="169.25" y="1187.00" width="55.00" height="14.25" fill="#c00000" filter="url(#bsh)"/>
<rect x="281.00" y="1058.25" width="55.00" height="14.25" fill="#c00000" filter="url(#bsh)"/>
<rect x="361.25" y="991.25" width="54.50" height="14.25" fill="#c00000" filter="url(#bsh)"/>
<rect x="452.00" y="927.00" width="53.00" height="14.75" fill="#c00000" filter="url(#bsh)"/>
<rect x="446.25" y="1007.00" width="55.00" height="14.75" fill="#c00000" filter="url(#bsh)"/>
<rect x="569.00" y="977.00" width="53.00" height="14.50" fill="#c00000" filter="url(#bsh)"/>
<rect x="555.00" y="1077.00" width="53.00" height="14.50" fill="#c00000" filter="url(#bsh)"/>
<rect x="438.00" y="1109.25" width="53.25" height="14.50" fill="#c00000" filter="url(#bsh)"/>
<rect x="643.75" y="1064.25" width="53.25" height="14.50" fill="#c00000" filter="url(#bsh)"/>
<rect x="713.00" y="1041.25" width="55.50" height="15.50" fill="#c00000" filter="url(#bsh)"/>
<rect x="640.00" y="1135.00" width="53.00" height="14.25" fill="#c00000" filter="url(#bsh)"/>
<rect x="584.00" y="1176.25" width="55.25" height="14.50" fill="#c00000" filter="url(#bsh)"/>
<rect x="513.00" y="1180.00" width="53.00" height="14.50" fill="#c00000" filter="url(#bsh)"/>
<rect x="445.00" y="1205.50" width="55.00" height="14.50" fill="#c00000" filter="url(#bsh)"/>
<rect x="343.00" y="1172.00" width="55.00" height="14.75" fill="#c00000" filter="url(#bsh)"/>
<rect x="544.25" y="911.25" width="55.00" height="14.50" fill="#c00000" filter="url(#bsh)"/>
<rect x="624.25" y="1257.00" width="55.00" height="14.50" fill="#c00000" filter="url(#bsh)"/>
<rect x="383.00" y="1286.25" width="55.00" height="14.50" fill="#c00000" filter="url(#bsh)"/>
<rect x="98.00" y="923.00" width="65.00" height="18.75" fill="#c00000" filter="url(#bsh)"/>
</svg>
<div id="txt">
<div class="v" style="top:74.70px;line-height:14px;font-weight:bold;">11,8</div>
<div class="v" style="top:112.70px;line-height:14px;">0,1</div>
<div class="v" style="top:150.70px;line-height:14px;">3,3</div>
<div class="v" style="top:188.70px;line-height:14px;">1,9</div>
<div class="v" style="top:226.70px;line-height:14px;">1,3</div>
<div class="v" style="top:264.70px;line-height:14px;">0,1</div>
<div class="v" style="top:302.70px;line-height:14px;">0,01</div>
<div class="v" style="top:340.70px;line-height:14px;">0,7</div>
<div class="v" style="top:378.70px;line-height:14px;">1,1</div>
<div class="v" style="top:416.70px;line-height:14px;">0,6</div>
<div class="v" style="top:454.70px;line-height:14px;">0,2</div>
<div class="v" style="top:492.70px;line-height:14px;">1,0</div>
<div class="v" style="top:530.70px;line-height:14px;">2,6</div>
<div class="v" style="top:568.70px;line-height:14px;">0,1</div>
<div class="v" style="top:606.70px;line-height:14px;">1,0</div>
<div class="v" style="top:644.70px;line-height:14px;">0,4</div>
<div class="v" style="top:682.70px;line-height:14px;">0,01</div>
<div class="v" style="top:720.70px;line-height:14px;">0,1</div>
<div class="v" style="top:758.70px;line-height:14px;">0,2</div>
<div class="v" style="top:796.70px;line-height:14px;">0,1</div>
<div class="v" style="top:834.70px;line-height:14px;">0,2</div>
<span class="t" id="t0" style="left:8.90px;top:8.65px;font-size:14.20px;line-height:16.32px;font-weight:bold;color:#fff;font-style:normal;transform:scaleX(1.0671)">Численность наёмных работников с начисленной заработной платой от 3 млн тг. 2025</span>
<span class="t" id="t1" style="left:252.50px;top:38.26px;font-size:12.20px;line-height:14.02px;font-weight:bold;color:#fff;font-style:normal;transform:scaleX(1.0474)">В разрезе видов экономической деятельности (тыс. чел.)</span>
<span class="t" id="t2" style="left:346.50px;top:871.96px;font-size:12.20px;line-height:14.02px;font-weight:bold;color:#fff;font-style:normal;transform:scaleX(1.0539)">Региональный разрез (чел.)</span>
<span class="t" id="t3" style="left:9.50px;top:1319.46px;font-size:11.20px;line-height:12.87px;font-weight:bold;color:#fff;font-style:italic;transform:scaleX(0.9021)">Ranking.kz на основе данных Бюро национальной статистики АСПиР РК</span>
<span class="t" id="t4" style="left:38.50px;top:74.66px;font-size:12.20px;line-height:14.02px;font-weight:bold;color:#1c1c1c;font-style:normal;transform:scaleX(1.0369)">Всего</span>
<span class="t" id="t5" style="left:38.50px;top:112.66px;font-size:12.20px;line-height:14.02px;font-weight:normal;color:#1c1c1c;font-style:normal;transform:scaleX(1.0924)">Сельское, лесное и рыбное хозяйство</span>
<span class="t" id="t6" style="left:38.50px;top:150.66px;font-size:12.20px;line-height:14.02px;font-weight:normal;color:#1c1c1c;font-style:normal;transform:scaleX(1.1145)">Промышленность</span>
<span class="t" id="t7" style="left:50.50px;top:188.66px;font-size:12.20px;line-height:14.02px;font-weight:normal;color:#1c1c1c;font-style:normal;transform:scaleX(1.1083)">Горнодобывающая промышленность и разработка карьеров</span>
<span class="t" id="t8" style="left:50.50px;top:226.66px;font-size:12.20px;line-height:14.02px;font-weight:normal;color:#1c1c1c;font-style:normal;transform:scaleX(1.0979)">Обрабатывающая промышленность</span>
<span class="t" id="t9" style="left:50.50px;top:264.66px;font-size:12.20px;line-height:14.02px;font-weight:normal;color:#1c1c1c;font-style:normal;transform:scaleX(1.1226)">Снабжение электроэнергией, газом, паром, горячей водой и кондиционированным воздухом</span>
<span class="t" id="t10" style="left:50.50px;top:293.76px;font-size:12.20px;line-height:14.02px;font-weight:normal;color:#1c1c1c;font-style:normal;transform:scaleX(1.1107)">Водоснабжение, водоотведение, сбор, обработка и удаление отходов, деятельность по</span>
<span class="t" id="t11" style="left:50.50px;top:311.56px;font-size:12.20px;line-height:14.02px;font-weight:normal;color:#1c1c1c;font-style:normal;transform:scaleX(1.1222)">ликвидации загрязнений</span>
<span class="t" id="t12" style="left:38.50px;top:340.66px;font-size:12.20px;line-height:14.02px;font-weight:normal;color:#1c1c1c;font-style:normal;transform:scaleX(1.0845)">Строительство</span>
<span class="t" id="t13" style="left:38.50px;top:378.66px;font-size:12.20px;line-height:14.02px;font-weight:normal;color:#1c1c1c;font-style:normal;transform:scaleX(1.1043)">Оптовая и розничная торговля</span>
<span class="t" id="t14" style="left:38.50px;top:416.66px;font-size:12.20px;line-height:14.02px;font-weight:normal;color:#1c1c1c;font-style:normal;transform:scaleX(1.1100)">Транспорт и складирование</span>
<span class="t" id="t15" style="left:38.50px;top:454.66px;font-size:12.20px;line-height:14.02px;font-weight:normal;color:#1c1c1c;font-style:normal;transform:scaleX(1.1138)">Предоставление услуг по проживанию и питанию</span>
<span class="t" id="t16" style="left:38.50px;top:492.66px;font-size:12.20px;line-height:14.02px;font-weight:normal;color:#1c1c1c;font-style:normal;transform:scaleX(1.0909)">Информация и связь</span>
<span class="t" id="t17" style="left:38.50px;top:530.66px;font-size:12.20px;line-height:14.02px;font-weight:normal;color:#1c1c1c;font-style:normal;transform:scaleX(1.0882)">Финансовая и страховая деятельность</span>
<span class="t" id="t18" style="left:38.50px;top:568.66px;font-size:12.20px;line-height:14.02px;font-weight:normal;color:#1c1c1c;font-style:normal;transform:scaleX(1.1228)">Операции с недвижимым имуществом</span>
<span class="t" id="t19" style="left:38.50px;top:606.66px;font-size:12.20px;line-height:14.02px;font-weight:normal;color:#1c1c1c;font-style:normal;transform:scaleX(1.0829)">Профессиональная, научная и техническая деятельность</span>
<span class="t" id="t20" style="left:38.50px;top:644.66px;font-size:12.20px;line-height:14.02px;font-weight:normal;color:#1c1c1c;font-style:normal;transform:scaleX(1.1081)">Деятельность в области административного и вспомогательного обслуживания</span>
<span class="t" id="t21" style="left:38.50px;top:682.66px;font-size:12.20px;line-height:14.02px;font-weight:normal;color:#1c1c1c;font-style:normal;transform:scaleX(1.1054)">Государственное управление и оборона, обязательное социальное обеспечение</span>
<span class="t" id="t22" style="left:38.50px;top:720.66px;font-size:12.20px;line-height:14.02px;font-weight:normal;color:#1c1c1c;font-style:normal;transform:scaleX(1.1079)">Образование</span>
<span class="t" id="t23" style="left:38.50px;top:758.66px;font-size:12.20px;line-height:14.02px;font-weight:normal;color:#1c1c1c;font-style:normal;transform:scaleX(1.1011)">Здравоохранение и социальное обслуживание населения</span>
<span class="t" id="t24" style="left:38.50px;top:796.66px;font-size:12.20px;line-height:14.02px;font-weight:normal;color:#1c1c1c;font-style:normal;transform:scaleX(1.1031)">Искусство, развлечения и отдых</span>
<span class="t" id="t25" style="left:38.50px;top:834.66px;font-size:12.20px;line-height:14.02px;font-weight:normal;color:#1c1c1c;font-style:normal;transform:scaleX(1.1046)">Предоставление прочих видов услуг</span>
<span class="t" id="t26" style="left:162.75px;top:997.82px;font-size:10.20px;line-height:11.72px;font-weight:normal;color:#000;font-style:normal;transform:scaleX(0.9545)">ЗКО</span>
<span class="t" id="t27" style="left:159.00px;top:1068.32px;font-size:10.20px;line-height:11.72px;font-weight:normal;color:#000;font-style:normal;transform:scaleX(0.9422)">Атырауская</span>
<span class="t" id="t28" style="left:163.25px;top:1169.07px;font-size:10.20px;line-height:11.72px;font-weight:normal;color:#000;font-style:normal;transform:scaleX(0.9654)">Мангистауская</span>
<span class="t" id="t29" style="left:278.50px;top:1042.07px;font-size:10.20px;line-height:11.72px;font-weight:normal;color:#000;font-style:normal;transform:scaleX(0.9952)">Актюбинская</span>
<span class="t" id="t30" style="left:360.00px;top:972.82px;font-size:10.20px;line-height:11.72px;font-weight:normal;color:#000;font-style:normal;transform:scaleX(0.9521)">Костанайская</span>
<span class="t" id="t31" style="left:470.75px;top:911.57px;font-size:10.20px;line-height:11.72px;font-weight:normal;color:#000;font-style:normal;transform:scaleX(0.9001)">СКО</span>
<span class="t" id="t32" style="left:444.00px;top:989.57px;font-size:10.20px;line-height:11.72px;font-weight:normal;color:#000;font-style:normal;transform:scaleX(0.9811)">Акмолинская</span>
<span class="t" id="t33" style="left:564.50px;top:961.57px;font-size:10.20px;line-height:11.72px;font-weight:normal;color:#000;font-style:normal;transform:scaleX(0.9462)">Павлодарская</span>
<span class="t" id="t34" style="left:545.00px;top:1060.82px;font-size:10.20px;line-height:11.72px;font-weight:normal;color:#000;font-style:normal;transform:scaleX(0.9712)">Карагандинская</span>
<span class="t" id="t35" style="left:439.50px;top:1094.07px;font-size:10.20px;line-height:11.72px;font-weight:normal;color:#000;font-style:normal;transform:scaleX(0.9481)">Улытауская</span>
<span class="t" id="t36" style="left:650.25px;top:1048.32px;font-size:10.20px;line-height:11.72px;font-weight:normal;color:#000;font-style:normal;transform:scaleX(0.9448)">Абайская</span>
<span class="t" id="t37" style="left:731.75px;top:1025.82px;font-size:10.20px;line-height:11.72px;font-weight:normal;color:#000;font-style:normal;transform:scaleX(0.9247)">ВКО</span>
<span class="t" id="t38" style="left:639.00px;top:1116.57px;font-size:10.20px;line-height:11.72px;font-weight:normal;color:#000;font-style:normal;transform:scaleX(0.9455)">Жетысуская</span>
<span class="t" id="t39" style="left:581.50px;top:1158.32px;font-size:10.20px;line-height:11.72px;font-weight:normal;color:#000;font-style:normal;transform:scaleX(0.9497)">Алматинская</span>
<span class="t" id="t40" style="left:510.00px;top:1164.07px;font-size:10.20px;line-height:11.72px;font-weight:normal;color:#000;font-style:normal;transform:scaleX(0.9454)">Жамбылская</span>
<span class="t" id="t41" style="left:440.75px;top:1185.32px;font-size:10.20px;line-height:11.72px;font-weight:normal;color:#000;font-style:normal;transform:scaleX(0.9534)">Туркестанская</span>
<span class="t" id="t42" style="left:332.50px;top:1154.57px;font-size:10.20px;line-height:11.72px;font-weight:normal;color:#000;font-style:normal;transform:scaleX(0.9767)">Кызылординская</span>
<span class="t" id="t43" style="left:607.00px;top:912.20px;font-size:11.60px;line-height:13.33px;font-weight:normal;color:#000;font-style:normal;transform:scaleX(0.9415)">г. Астана</span>
<span class="t" id="t44" style="left:686.50px;top:1257.95px;font-size:11.60px;line-height:13.33px;font-weight:normal;color:#000;font-style:normal;transform:scaleX(0.9648)">г. Алматы</span>
<span class="t" id="t45" style="left:318.25px;top:1286.20px;font-size:11.60px;line-height:13.33px;font-weight:normal;color:#000;font-style:normal;transform:scaleX(1.0031)">г. Шымкент</span>
<span class="t" id="t46" style="left:37.00px;top:924.70px;font-size:11.60px;line-height:13.33px;font-weight:normal;color:#000;font-style:normal;transform:scaleX(1.0167)">Казахстан</span>
<span class="t" id="t47" style="left:162.88px;top:1014.09px;font-size:11.00px;line-height:12.64px;font-weight:bold;color:#fff;font-style:normal;transform:scaleX(1.0485)">244</span>
<span class="t" id="t48" style="left:170.72px;top:1085.10px;font-size:11.00px;line-height:12.64px;font-weight:bold;color:#fff;font-style:normal;transform:scaleX(1.0098)">1 796</span>
<span class="t" id="t49" style="left:187.12px;top:1187.97px;font-size:11.00px;line-height:12.64px;font-weight:bold;color:#fff;font-style:normal;transform:scaleX(1.0485)">391</span>
<span class="t" id="t50" style="left:301.85px;top:1059.22px;font-size:11.00px;line-height:12.64px;font-weight:bold;color:#fff;font-style:normal;transform:scaleX(1.0857)">63</span>
<span class="t" id="t51" style="left:378.88px;top:992.22px;font-size:11.00px;line-height:12.64px;font-weight:bold;color:#fff;font-style:normal;transform:scaleX(1.0485)">187</span>
<span class="t" id="t52" style="left:471.85px;top:928.22px;font-size:11.00px;line-height:12.64px;font-weight:bold;color:#fff;font-style:normal;transform:scaleX(1.0857)">90</span>
<span class="t" id="t53" style="left:464.12px;top:1008.22px;font-size:11.00px;line-height:12.64px;font-weight:bold;color:#fff;font-style:normal;transform:scaleX(1.0485)">202</span>
<span class="t" id="t54" style="left:588.85px;top:978.09px;font-size:11.00px;line-height:12.64px;font-weight:bold;color:#fff;font-style:normal;transform:scaleX(1.0857)">82</span>
<span class="t" id="t55" style="left:571.88px;top:1078.10px;font-size:11.00px;line-height:12.64px;font-weight:bold;color:#fff;font-style:normal;transform:scaleX(1.0485)">276</span>
<span class="t" id="t56" style="left:457.98px;top:1110.35px;font-size:11.00px;line-height:12.64px;font-weight:bold;color:#fff;font-style:normal;transform:scaleX(1.0857)">42</span>
<span class="t" id="t57" style="left:660.75px;top:1065.35px;font-size:11.00px;line-height:12.64px;font-weight:bold;color:#fff;font-style:normal;transform:scaleX(1.0485)">253</span>
<span class="t" id="t58" style="left:731.12px;top:1042.85px;font-size:11.00px;line-height:12.64px;font-weight:bold;color:#fff;font-style:normal;transform:scaleX(1.0485)">386</span>
<span class="t" id="t59" style="left:659.85px;top:1135.97px;font-size:11.00px;line-height:12.64px;font-weight:bold;color:#fff;font-style:normal;transform:scaleX(1.0857)">17</span>
<span class="t" id="t60" style="left:602.00px;top:1177.35px;font-size:11.00px;line-height:12.64px;font-weight:bold;color:#fff;font-style:normal;transform:scaleX(1.0485)">473</span>
<span class="t" id="t61" style="left:532.85px;top:1181.10px;font-size:11.00px;line-height:12.64px;font-weight:bold;color:#fff;font-style:normal;transform:scaleX(1.0857)">68</span>
<span class="t" id="t62" style="left:465.85px;top:1206.60px;font-size:11.00px;line-height:12.64px;font-weight:bold;color:#fff;font-style:normal;transform:scaleX(1.0857)">59</span>
<span class="t" id="t63" style="left:363.85px;top:1173.22px;font-size:11.00px;line-height:12.64px;font-weight:bold;color:#fff;font-style:normal;transform:scaleX(1.0857)">52</span>
<span class="t" id="t64" style="left:557.85px;top:912.34px;font-size:11.00px;line-height:12.64px;font-weight:bold;color:#fff;font-style:normal;transform:scaleX(1.0098)">1 281</span>
<span class="t" id="t65" style="left:637.85px;top:1258.10px;font-size:11.00px;line-height:12.64px;font-weight:bold;color:#fff;font-style:normal;transform:scaleX(1.0098)">5 722</span>
<span class="t" id="t66" style="left:400.88px;top:1287.35px;font-size:11.00px;line-height:12.64px;font-weight:bold;color:#fff;font-style:normal;transform:scaleX(1.0485)">148</span>
<span class="t" id="t67" style="left:113.62px;top:926.14px;font-size:11.20px;line-height:12.87px;font-weight:bold;color:#fff;font-style:normal;transform:scaleX(1.0042)">11 833</span>
</div>
</body></html>
